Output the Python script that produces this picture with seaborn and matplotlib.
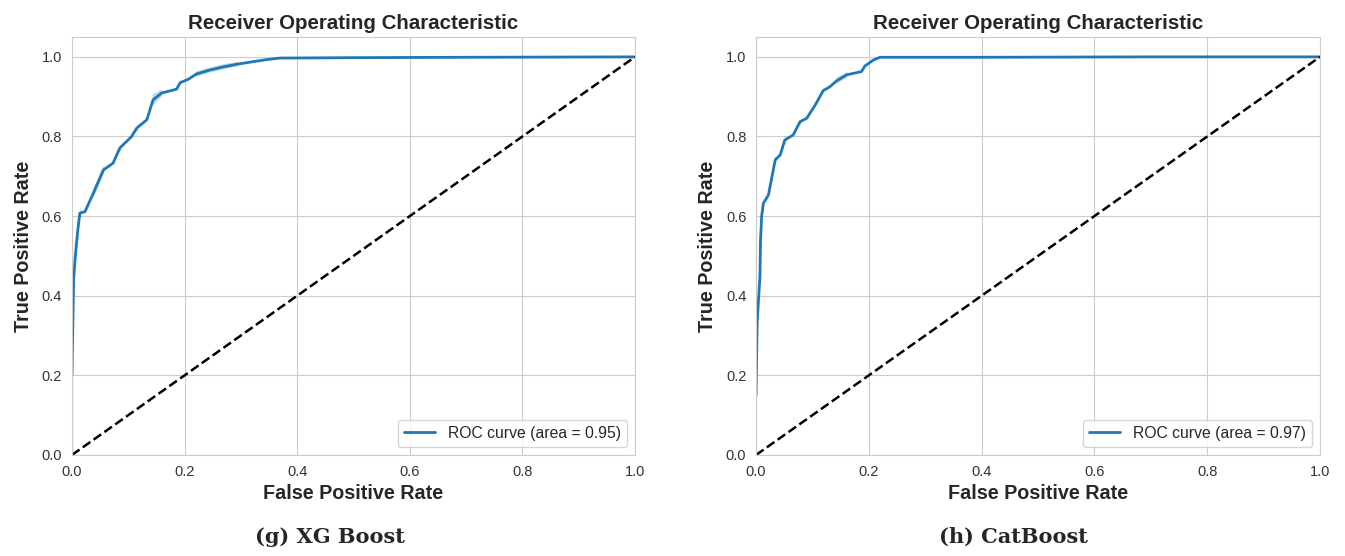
import matplotlib
matplotlib.use("Agg")
from matplotlib import pyplot as plt
import seaborn as sns
import pandas as pd

# ROC points (vertical steps share one fpr value)
xgb_fpr = [0.000, 0.000, 0.000, 0.003, 0.006, 0.010, 0.014, 0.014, 0.023, 0.038,
           0.038, 0.056, 0.056, 0.073, 0.085, 0.085, 0.106, 0.115, 0.115, 0.133,
           0.144, 0.144, 0.159, 0.159, 0.186, 0.192, 0.192, 0.207, 0.221, 0.221,
           0.245, 0.245, 0.269, 0.269, 0.295, 0.295, 0.322, 0.345, 0.369, 0.500,
           0.700, 1.000]
xgb_tpr = [0.000, 0.200, 0.400, 0.440, 0.500, 0.560, 0.595, 0.620, 0.611, 0.650,
           0.665, 0.708, 0.724, 0.733, 0.764, 0.778, 0.800, 0.814, 0.828, 0.842,
           0.880, 0.904, 0.902, 0.916, 0.919, 0.929, 0.941, 0.944, 0.952, 0.962,
           0.962, 0.972, 0.970, 0.980, 0.978, 0.986, 0.988, 0.993, 0.997, 0.998,
           0.999, 1.000]

cat_fpr = [0.000, 0.000, 0.000, 0.002, 0.004, 0.007, 0.008, 0.010, 0.013, 0.022,
           0.034, 0.034, 0.043, 0.051, 0.051, 0.066, 0.078, 0.078, 0.090, 0.105,
           0.119, 0.119, 0.131, 0.143, 0.143, 0.161, 0.161, 0.187, 0.193, 0.208,
           0.220, 0.400, 0.700, 1.000]
cat_tpr = [0.000, 0.150, 0.300, 0.330, 0.380, 0.450, 0.540, 0.600, 0.632, 0.653,
           0.730, 0.752, 0.754, 0.782, 0.800, 0.804, 0.830, 0.844, 0.846, 0.879,
           0.908, 0.922, 0.925, 0.934, 0.946, 0.950, 0.960, 0.963, 0.977, 0.992,
           0.999, 0.999, 1.000, 1.000]

models = ["XG Boost", "CatBoost"]
captions = ["(g) XG Boost", "(h) CatBoost"]
aucs = [0.95, 0.97]
ticks = [0.0, 0.2, 0.4, 0.6, 0.8, 1.0]
chance = [0.0, 1.0]

sns.set_style("whitegrid")
plt.rcParams['font.family'] = ['Liberation Sans', 'DejaVu Sans']

fig = plt.figure(figsize=(13.45, 5.56), dpi=100)
ax_left = fig.add_axes([0.0535, 0.1817, 0.4186, 0.7518])
ax_right = fig.add_axes([0.5621, 0.1817, 0.4193, 0.7518])

data = [(xgb_fpr, xgb_tpr), (cat_fpr, cat_tpr)]

for ax, (fpr, tpr), auc in zip([ax_left, ax_right], data, aucs):
    df = pd.DataFrame({"fpr": fpr, "tpr": tpr})
    sns.lineplot(data=df, x="fpr", y="tpr", ax=ax, color="#1f77b4", lw=2,
                 errorbar=("ci", 95), seed=0,
                 label="ROC curve (area = %0.2f)" % auc)
    sns.lineplot(x=chance, y=chance, ax=ax, color="black", lw=1.8,
                 linestyle="--")
    ax.set_xlim(0.0, 1.0)
    ax.set_ylim(0.0, 1.05)
    ax.set_xticks(ticks)
    ax.set_yticks(ticks)
    ax.tick_params(labelsize=10.5, colors="#333333")
    ax.set_xlabel("False Positive Rate", fontsize=14.2, fontweight="bold", color="#262626")
    ax.set_ylabel("True Positive Rate", fontsize=14.2, fontweight="bold", color="#262626",
                  labelpad=6)
    ax.set_title("Receiver Operating Characteristic", fontsize=14.8,
                 fontweight="bold", color="#262626")
    ax.legend(loc="lower right", fontsize=11.3)

fig.text(330 / 1345, 1 - 537 / 556, captions[0], ha="center", va="center",
         fontsize=15, fontweight="bold", family=["DejaVu Serif"])
fig.text(1013 / 1345, 1 - 537 / 556, captions[1], ha="center", va="center",
         fontsize=15, fontweight="bold", family=["DejaVu Serif"])

plt.savefig("out.png", dpi=100)
